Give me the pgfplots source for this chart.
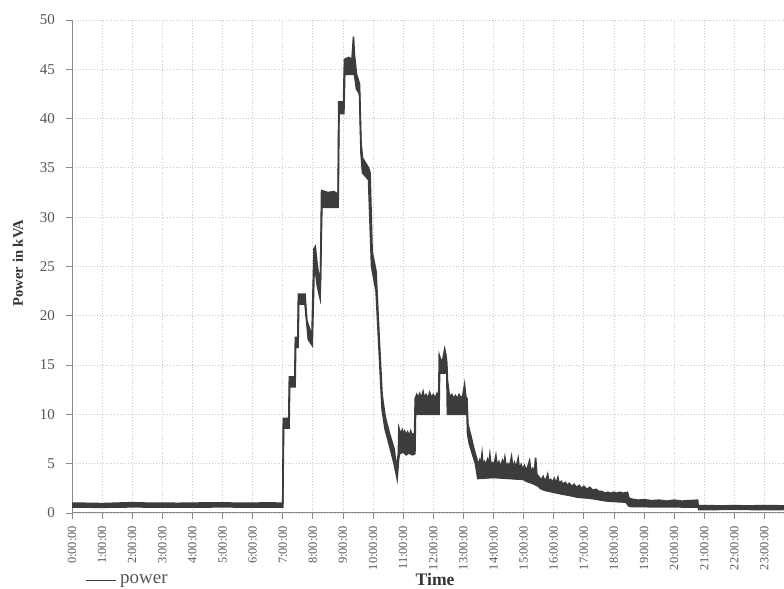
\documentclass[border=0pt]{standalone}
\usepackage{fontspec}
\setmainfont{Liberation Serif}
\usepackage{pgfplots}
\pgfplotsset{compat=1.18}
\usepgfplotslibrary{fillbetween}
\definecolor{dataline}{HTML}{3C3C3C}
\definecolor{gridc}{HTML}{CACACA}
\definecolor{axisc}{HTML}{8A8A8A}
\definecolor{tickc}{HTML}{555555}
\begin{document}
\begin{tikzpicture}
\begin{axis}[
  at={(0,0)}, anchor=south west,
  scale only axis, width=356pt, height=246.5pt,
  xmin=0, xmax=23.65, ymin=0, ymax=50,
  axis lines*=left,
  axis line style={axisc, line width=0.5pt},
  xtick={0,...,23},
  xticklabels={0:00:00,1:00:00,2:00:00,3:00:00,4:00:00,5:00:00,6:00:00,7:00:00,8:00:00,9:00:00,10:00:00,11:00:00,12:00:00,13:00:00,14:00:00,15:00:00,16:00:00,17:00:00,18:00:00,19:00:00,20:00:00,21:00:00,22:00:00,23:00:00},
  ytick={0,5,...,50},
  tick align=outside,
  major tick length=3pt,
  tick style={axisc, line width=0.4pt},
  xticklabel style={rotate=90, anchor=east, font=\fontsize{6.2}{7}\selectfont, text=tickc},
  yticklabel style={font=\fontsize{7.5}{9}\selectfont, text=tickc, xshift=-2pt},
  /pgf/number format/assume math mode=true,
  grid=major,
  major grid style={gridc, densely dotted, line width=0.4pt},
  xlabel={\textbf{Time}},
  ylabel={\textbf{Power in kVA}},
  xlabel style={at={(axis description cs:0.51,-0.134)}, anchor=center, font=\fontsize{8.8}{10}\selectfont, text=black!80},
  ylabel style={at={(axis description cs:-0.076,0.507)}, anchor=center, font=\fontsize{7.3}{9}\selectfont, text=black!80},
  legend style={at={(axis description cs:0.018,-0.136)}, anchor=west, draw=none, fill=none, inner sep=0pt, font=\fontsize{9.5}{11}\selectfont, text=tickc},
  legend image code/.code={\draw[dataline, line width=0.5pt] (0pt,0pt) -- (15pt,0pt);},
  legend cell align=left,
]
% upper envelope
\addplot[name path=up, dataline, line width=0.8pt] coordinates {
(0,1.0) (0.5,0.98) (1,0.95) (1.5,1.0) (2,1.05) (2.5,1.0) (3,1.0) (3.5,0.98) (4,1.0) (4.5,1.02) (5,1.02) (5.5,1.0) (6,1.0) (6.5,1.02) (6.98,1.0)
(7.00,1.0) (7.02,9.6) (7.20,9.6) (7.22,13.8) (7.40,13.8) (7.42,17.8) (7.50,17.8) (7.52,22.2) (7.74,22.2) (7.80,19.5) (7.97,18.0)
(8.04,26.8) (8.08,27.0) (8.15,25.0) (8.25,23.0) (8.29,32.7) (8.5,32.5) (8.7,32.6) (8.84,32.3) (8.86,41.7) (9.02,41.7) (9.05,46.0)
(9.2,46.2) (9.3,46.0) (9.35,48.3) (9.38,46.5) (9.45,44.5) (9.55,43.5) (9.60,37.5) (9.65,36.0) (9.85,35.0) (9.90,34.5)
(9.97,26.5) (10.1,24.5) (10.2,18.0) (10.3,12.0) (10.4,9.8) (10.55,8.0) (10.7,6.5) (10.78,4.5) (10.84,6.0)
(10.86,8.6) (10.92,8.0) (10.97,8.4) (11.0,8.0) (11.05,8.3) (11.1,7.9) (11.15,8.2) (11.2,7.8) (11.25,8.3) (11.30,7.9) (11.38,8.1)
(11.40,11.6) (11.45,12.0) (11.5,11.7) (11.55,12.1) (11.6,11.6) (11.66,12.3) (11.7,11.7) (11.76,12.0) (11.82,11.6) (11.88,12.2) (11.94,11.7) (12.0,12.0) (12.06,11.6) (12.12,12.1) (12.18,11.7)
(12.20,16.0) (12.26,15.4) (12.32,15.6) (12.38,16.6) (12.42,16.0) (12.45,15.2)
(12.47,13.5) (12.52,12.2) (12.57,11.7) (12.62,12.0) (12.68,11.6) (12.74,11.9) (12.8,11.6) (12.86,12.0) (12.92,11.6) (12.98,11.9) (13.04,13.0) (13.08,11.8) (13.12,11.6)
(13.15,9.0) (13.25,7.8) (13.35,6.5) (13.45,5.4)
(13.5,4.9) (13.54,5.3) (13.57,4.8) (13.62,6.0) (13.65,4.9) (13.7,5.2) (13.74,4.8) (13.8,5.4) (13.84,4.9) (13.88,5.9) (13.92,4.8) (13.97,5.1)
(14.02,4.9) (14.08,5.8) (14.12,4.8) (14.18,5.2) (14.23,4.7) (14.3,5.3) (14.34,4.8) (14.38,5.6) (14.42,4.7) (14.48,5.0) (14.53,4.7) (14.6,5.7)
(14.64,4.6) (14.7,5.1) (14.75,4.6) (14.82,5.5) (14.86,4.5) (14.92,4.9) (14.97,4.4) (15.03,4.8) (15.08,4.3) (15.14,4.7) (15.2,5.3) (15.24,4.2)
(15.3,4.5) (15.35,4.0) (15.4,5.6) (15.44,3.9) (15.5,3.7) (15.55,3.5)
(15.6,3.4) (15.65,3.7) (15.7,3.3) (15.76,3.5) (15.8,3.9) (15.84,3.2) (15.9,3.4) (15.96,3.1) (16.02,3.5) (16.08,3.0) (16.14,3.6) (16.18,3.0)
(16.25,3.2) (16.3,2.9) (16.38,3.1) (16.45,2.8) (16.52,3.0) (16.6,2.7) (16.68,2.9) (16.75,2.6) (16.85,2.8) (16.92,2.5) (17.0,2.7) (17.1,2.4)
(17.2,2.6) (17.3,2.3) (17.4,2.4) (17.5,2.2) (17.6,2.2) (17.7,2.0) (17.8,2.1) (17.9,2.0) (18.0,2.1) (18.1,2.0) (18.2,2.1) (18.3,2.0) (18.45,2.1) (18.5,1.5)
(18.6,1.4) (18.8,1.3) (19.0,1.35) (19.25,1.25) (19.5,1.3) (19.75,1.2) (20.0,1.3) (20.25,1.2) (20.5,1.25) (20.78,1.3) (20.8,0.75)
(21,0.75) (21.5,0.72) (22,0.74) (22.5,0.72) (23,0.75) (23.65,0.72)
};
\addlegendentry{power}
% lower envelope
\addplot[name path=lo, dataline, line width=0.8pt, forget plot] coordinates {
(0,0.6) (1,0.58) (2,0.62) (3,0.6) (4,0.6) (5,0.62) (6,0.6) (7.0,0.6)
(7.03,8.6) (7.21,8.6) (7.23,12.8) (7.41,12.8) (7.43,16.8) (7.51,16.8) (7.53,21.2) (7.74,21.2) (7.85,17.6) (7.98,17.0)
(8.05,25.5) (8.15,23.0) (8.24,21.8) (8.30,31.0) (8.84,31.0) (8.87,40.5) (9.03,40.5) (9.06,44.5) (9.33,44.5) (9.36,45.0)
(9.45,43.0) (9.55,42.5) (9.60,36.5) (9.65,34.5) (9.85,33.8) (9.95,25.0) (10.1,22.5) (10.2,16.5) (10.3,10.5) (10.4,8.5)
(10.55,6.8) (10.7,5.0) (10.8,3.5) (10.85,5.5)
(10.88,6.0) (11.0,6.2) (11.1,5.9) (11.2,6.1) (11.3,5.9) (11.39,6.0)
(11.41,10.0) (12.19,10.0)
(12.21,14.2) (12.45,14.2)
(12.47,10.0) (13.12,10.0)
(13.14,8.0) (13.2,7.0) (13.3,6.0) (13.4,5.0) (13.48,3.5)
(13.5,3.5) (14.0,3.6) (14.5,3.5) (15.0,3.4)
(15.1,3.2) (15.3,3.0) (15.5,2.7) (15.55,2.5)
(15.7,2.3) (16.0,2.1) (16.3,1.9) (16.5,1.8)
(16.8,1.6) (17.2,1.5) (17.5,1.35)
(17.8,1.2) (18.4,1.1) (18.5,0.7)
(18.6,0.65) (20.8,0.6) (20.82,0.35)
(21,0.35) (22,0.37) (23,0.35) (23.65,0.36)
};
\addplot[dataline, forget plot] fill between[of=up and lo];
\end{axis}
\pgfresetboundingbox
\path[use as bounding box] (-36pt,-38pt) rectangle (356pt,256.5pt);
\end{tikzpicture}
\end{document}
